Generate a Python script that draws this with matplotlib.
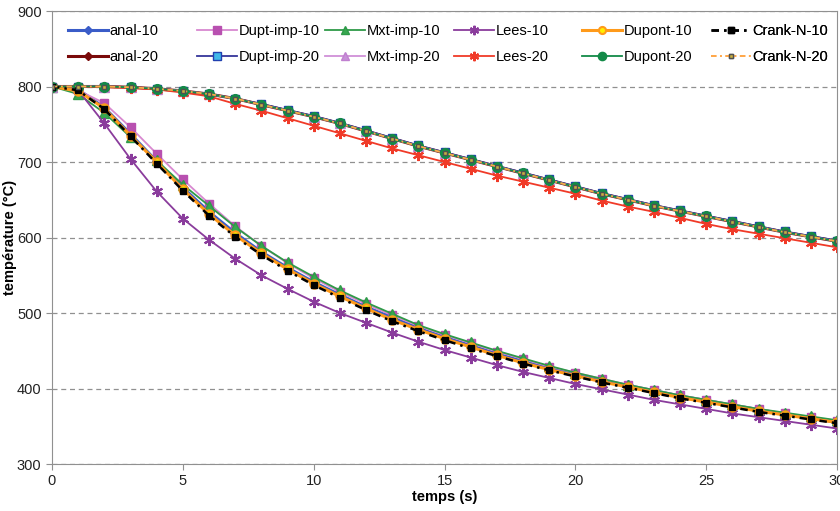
import matplotlib
matplotlib.use("Agg")
import matplotlib.pyplot as plt
import numpy as np

plt.rcParams['font.family'] = ['Liberation Sans', 'DejaVu Sans']

t = list(range(0, 31))

anal_10 = [800, 796, 772, 737, 701, 666, 634, 606, 581, 560, 541, 524, 508, 494, 480, 468,
           457, 446, 436, 427, 419, 411, 404, 397, 390, 384, 378, 372, 366, 361, 355]
anal_20 = [800, 800, 800, 799, 797, 794, 790, 784, 776, 768, 760, 751, 741, 731, 721, 712,
           703, 694, 685, 676, 667, 658, 650, 642, 635, 628, 621, 614, 607, 601, 595]
dupt_imp_10 = [800, 795, 778, 746, 711, 677, 645, 615, 589, 566, 546, 528, 512, 497, 483, 471,
               460, 449, 439, 429, 421, 413, 405, 398, 391, 385, 379, 373, 367, 362, 357]
dupt_imp_20 = [800, 800, 800, 799, 797, 794, 790, 784, 777, 769, 761, 752, 742, 732, 722, 713,
               704, 695, 686, 677, 668, 659, 651, 643, 636, 629, 622, 615, 608, 602, 596]
mxt_imp_10 = [800, 790, 765, 733, 702, 670, 642, 614, 589, 567, 548, 530, 514, 499, 484, 472,
              461, 450, 440, 430, 421, 413, 405, 398, 391, 385, 379, 373, 368, 363, 358]
mxt_imp_20 = [800, 800, 800, 799, 797, 794, 790, 784, 776, 768, 760, 751, 741, 731, 721, 712,
              703, 694, 685, 676, 667, 658, 650, 642, 635, 628, 621, 614, 607, 601, 595]
lees_10 = [800, 795, 751, 704, 661, 625, 597, 572, 550, 532, 515, 500, 487, 474, 462, 451,
           441, 431, 422, 414, 406, 399, 392, 385, 379, 373, 367, 362, 357, 352, 347]
lees_20 = [800, 800, 799, 798, 796, 792, 787, 777, 768, 758, 748, 738, 728, 718, 709, 700,
           691, 682, 674, 666, 658, 649, 641, 634, 626, 618, 611, 605, 599, 593, 587]
dupont_10 = [800, 794, 771, 735, 700, 664, 631, 603, 579, 558, 539, 522, 506, 491, 478, 466,
             455, 444, 434, 425, 417, 409, 402, 395, 388, 382, 376, 370, 365, 360, 355]
dupont_20 = [800, 800, 800, 799, 797, 794, 790, 784, 776, 768, 760, 751, 741, 731, 721, 712,
             703, 694, 685, 676, 667, 658, 650, 642, 635, 628, 621, 614, 607, 601, 595]
crank_n_10 = [800, 795, 770, 734, 698, 662, 629, 601, 577, 556, 537, 520, 504, 489, 476, 464,
              453, 443, 433, 424, 416, 408, 401, 394, 387, 381, 375, 369, 364, 359, 354]
crank_n_20 = [800, 800, 800, 799, 797, 794, 790, 784, 776, 768, 760, 751, 741, 731, 721, 712,
              703, 694, 685, 676, 667, 658, 650, 642, 635, 628, 621, 614, 607, 601, 595]

x_ticks = [0, 5, 10, 15, 20, 25, 30]
y_ticks = [300, 400, 500, 600, 700, 800, 900]

star = (6, 2, 0)
series = [
    ("anal-10", anal_10, dict(color="#3A5CC8", marker="D", ms=5, mfc="#3A5CC8", mec="#3A5CC8", lw=2.2)),
    ("anal-20", anal_20, dict(color="#7A0A0A", marker="D", ms=5, mfc="#7A0A0A", mec="#7A0A0A", lw=2.2)),
    ("Dupt-imp-10", dupt_imp_10, dict(color="#D888D0", marker="s", ms=6, mfc="#B850B0", mec="#B850B0", lw=1.3)),
    ("Dupt-imp-20", dupt_imp_20, dict(color="#35359A", marker="s", ms=6, mfc="#40B8E8", mec="#2040B0", lw=1.3)),
    ("Mxt-imp-10", mxt_imp_10, dict(color="#2E9A48", marker="^", ms=7, mfc="#38A850", mec="#2E9A48", lw=1.3)),
    ("Mxt-imp-20", mxt_imp_20, dict(color="#D090D8", marker="^", ms=7, mfc="#C890D8", mec="#C080D0", lw=1.3)),
    ("Lees-10", lees_10, dict(color="#8A3C9C", marker=star, ms=8, mfc="#8A3C9C", mec="#8A3C9C", mew=1.5, lw=1.3)),
    ("Lees-20", lees_20, dict(color="#F03A28", marker=star, ms=8, mfc="#F03A28", mec="#F03A28", mew=1.5, lw=1.3)),
    ("Dupont-10", dupont_10, dict(color="#FF9A1A", marker="o", ms=6, mfc="#FFF000", mec="#FF9A1A", mew=1.5, lw=2.2)),
    ("Dupont-20", dupont_20, dict(color="#138A48", marker="o", ms=7, mfc="#138A48", mec="#138A48", lw=1.3)),
    ("Crank-N-10", crank_n_10, dict(color="#000000", marker="s", ms=5, mfc="#000000", mec="#000000", lw=1.8, dashes=(3, 2, 1, 2))),
    ("Crank-N-20", crank_n_20, dict(color="#FFA84A", marker="s", ms=3.5, mfc="#C8B040", mec="#505050", lw=1.3, dashes=(3, 2, 1, 2))),
]

W, H = 840, 511
fig = plt.figure(figsize=(W / 100, H / 100), dpi=100)
ax = fig.add_axes([52 / W, 47 / H, 785 / W, 453 / H])

handles = []
for name, vals, kw in series:
    ln, = ax.plot(t, vals, label=name, **kw)
    handles.append(ln)

ax.set_xlim(0, 30)
ax.set_ylim(300, 900)
ax.set_xticks(x_ticks)
ax.set_yticks(y_ticks)
ax.yaxis.grid(True, linestyle=(0, (4, 3)), color="#909090", lw=0.9)
ax.set_axisbelow(True)
for s in ax.spines.values():
    s.set_color("#909090")
ax.tick_params(axis="both", colors="#909090", labelcolor="#222222", labelsize=10.5, length=4, direction="out")

ax.set_xlabel("temps (s)", fontsize=10.5, fontweight="bold", labelpad=1)
ax.set_ylabel("température (°C)", fontsize=10.5, fontweight="bold")
ax.yaxis.set_label_coords((17 - 52) / 785, 0.5)

# legend: 6 columns of 2 entries, uniform column spacing
col_x = [68, 196.5, 325, 453.5, 582, 710.5]
for i, cx in enumerate(col_x):
    hs = handles[2 * i:2 * i + 2]
    leg = ax.legend(hs, [h.get_label() for h in hs], loc="upper left",
                    bbox_to_anchor=(cx / W, (H - 24) / H), bbox_transform=fig.transFigure,
                    frameon=False, fontsize=10.5, handlelength=2.75, handletextpad=0.12,
                    borderpad=0, borderaxespad=0, labelspacing=0.85, markerscale=0.85)
    ax.add_artist(leg)

fig.savefig("out.png", dpi=100)
